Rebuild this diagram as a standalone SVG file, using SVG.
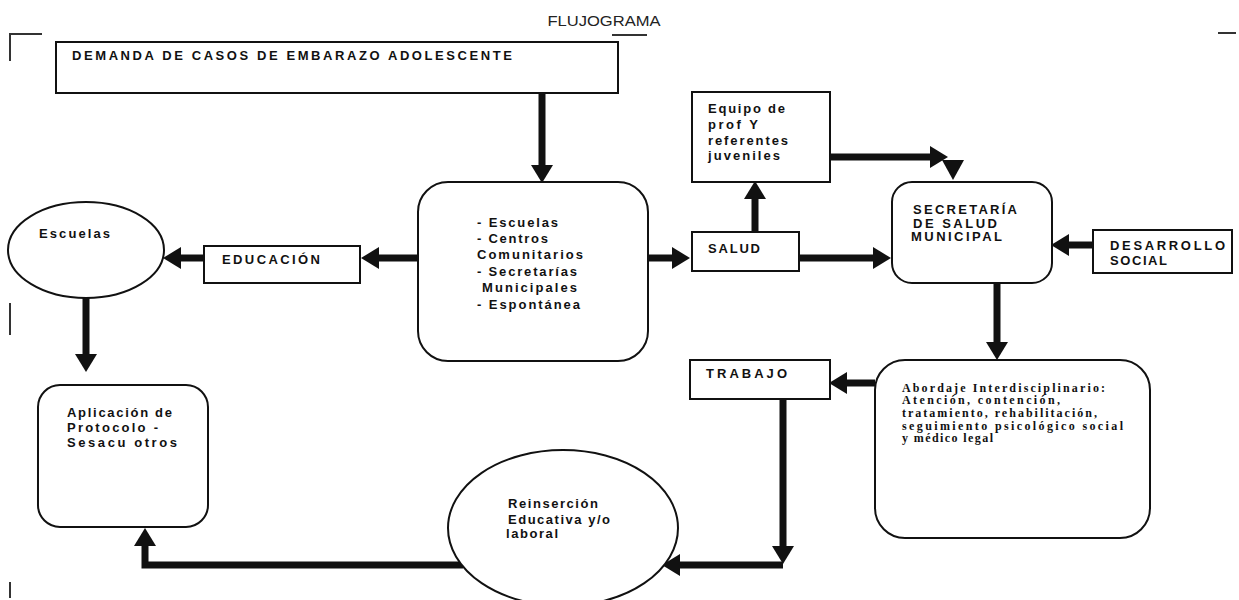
<svg xmlns="http://www.w3.org/2000/svg" width="1239" height="600" viewBox="0 0 1239 600">
<style>
.box{fill:#fff;stroke:#111;stroke-width:2}
.t{font-family:"Liberation Sans",Arial,sans-serif;font-weight:bold;font-size:13px;fill:#111}
.s{font-family:"Liberation Serif","Times New Roman",serif;font-weight:bold;font-size:12px;fill:#111}
.c{fill:none;stroke:#111;stroke-width:7}
.mark{fill:none;stroke:#333;stroke-width:2}
.head{fill:#111}
</style>
<defs>
<marker id="ah" markerUnits="userSpaceOnUse" markerWidth="18" markerHeight="22" viewBox="0 0 18 22" refX="0" refY="11" orient="auto">
<path d="M0,0 L18,11 L0,22 Z" fill="#111"/>
</marker>
</defs>
<rect width="1239" height="600" fill="#fff"/>
<g id="page-marks">
<path class="mark" d="M10,61 V34 H42"/>
<path class="mark" d="M10,303 V335"/>
<path class="mark" d="M10,582 V598"/>
<path class="mark" d="M1218,33 H1236"/>
<path class="mark" d="M612,35 H647"/>
<text x="604" y="26" text-anchor="middle" font-family="'Liberation Sans',Arial,sans-serif" font-size="15" fill="#222" textLength="113" lengthAdjust="spacingAndGlyphs">FLUJOGRAMA</text>
</g>
<g id="connectors">
<path class="c" d="M542,93 V165" marker-end="url(#ah)"/>
<path class="c" d="M418,258 H379" marker-end="url(#ah)"/>
<path class="c" d="M204,258 H181" marker-end="url(#ah)"/>
<path class="c" d="M86,298 V354" marker-end="url(#ah)"/>
<path class="c" d="M648,258 H672" marker-end="url(#ah)"/>
<path class="c" d="M755,232 V199" marker-end="url(#ah)"/>
<path class="c" d="M830,157 H930" marker-end="url(#ah)"/>
<polygon class="head" points="942,160 964,160 953,180"/>
<path class="c" d="M799,258 H873" marker-end="url(#ah)"/>
<path class="c" d="M1093,245 H1069" marker-end="url(#ah)"/>
<path class="c" d="M997,283 V342" marker-end="url(#ah)"/>
<path class="c" d="M875,383 H847" marker-end="url(#ah)"/>
<path class="c" d="M783,399 V546" marker-end="url(#ah)"/>
<path class="c" d="M783,565 H680" marker-end="url(#ah)"/>
<path class="c" d="M463,565 H145 V546" marker-end="url(#ah)"/>
</g>
<g id="demanda">
<rect class="box" x="56" y="42" width="562" height="51"/>
<text class="t" x="72" y="60" textLength="440" lengthAdjust="spacing">DEMANDA DE CASOS DE EMBARAZO ADOLESCENTE</text>
</g>
<g id="origen">
<rect class="box" x="418" y="182" width="230" height="179" rx="30"/>
<text class="t" x="477" y="227" textLength="81" lengthAdjust="spacing">- Escuelas</text>
<text class="t" x="477" y="243" textLength="71" lengthAdjust="spacing">- Centros</text>
<text class="t" x="477" y="259" textLength="106" lengthAdjust="spacing">Comunitarios</text>
<text class="t" x="477" y="276" textLength="100" lengthAdjust="spacing">- Secretarías</text>
<text class="t" x="482" y="292" textLength="95" lengthAdjust="spacing">Municipales</text>
<text class="t" x="477" y="309" textLength="103" lengthAdjust="spacing">- Espontánea</text>
</g>
<g id="educacion">
<rect class="box" x="204" y="246" width="156" height="37"/>
<text class="t" x="222" y="264" textLength="98" lengthAdjust="spacing">EDUCACIÓN</text>
</g>
<g id="escuelas">
<ellipse class="box" cx="86" cy="250" rx="78" ry="48"/>
<text class="t" x="39" y="238" textLength="71" lengthAdjust="spacing">Escuelas</text>
</g>
<g id="aplicacion">
<rect class="box" x="38" y="385" width="170" height="142" rx="22"/>
<text class="t" x="67" y="417" textLength="105" lengthAdjust="spacing">Aplicación de</text>
<text class="t" x="67" y="432" textLength="91" lengthAdjust="spacing">Protocolo -</text>
<text class="t" x="67" y="447" textLength="110" lengthAdjust="spacing">Sesacu otros</text>
</g>
<g id="salud">
<rect class="box" x="692" y="232" width="107" height="39"/>
<text class="t" x="708" y="253" textLength="52" lengthAdjust="spacing">SALUD</text>
</g>
<g id="equipo">
<rect class="box" x="692" y="92" width="138" height="90"/>
<text class="t" x="708" y="113" textLength="77" lengthAdjust="spacing">Equipo de</text>
<text class="t" x="708" y="129" textLength="50" lengthAdjust="spacing">prof Y</text>
<text class="t" x="708" y="145" textLength="80" lengthAdjust="spacing">referentes</text>
<text class="t" x="708" y="160" textLength="72" lengthAdjust="spacing">juveniles</text>
</g>
<g id="secretaria">
<rect class="box" x="892" y="182" width="160" height="101" rx="20"/>
<text class="t" x="913" y="214" textLength="104" lengthAdjust="spacing">SECRETARÍA</text>
<text class="t" x="913" y="228" textLength="84" lengthAdjust="spacing">DE SALUD</text>
<text class="t" x="911" y="241" textLength="91" lengthAdjust="spacing">MUNICIPAL</text>
</g>
<g id="desarrollo">
<rect class="box" x="1093" y="230" width="139" height="43"/>
<text class="t" x="1110" y="250" textLength="115" lengthAdjust="spacing">DESARROLLO</text>
<text class="t" x="1110" y="265" textLength="57" lengthAdjust="spacing">SOCIAL</text>
</g>
<g id="abordaje">
<rect class="box" x="875" y="360" width="275" height="178" rx="30"/>
<text class="s" x="902" y="392" textLength="203" lengthAdjust="spacing">Abordaje Interdisciplinario:</text>
<text class="s" x="902" y="404" textLength="158" lengthAdjust="spacing">Atención, contención,</text>
<text class="s" x="902" y="417" textLength="195" lengthAdjust="spacing">tratamiento, rehabilitación,</text>
<text class="s" x="902" y="430" textLength="221" lengthAdjust="spacing">seguimiento psicológico social</text>
<text class="s" x="902" y="442" textLength="91" lengthAdjust="spacing">y médico legal</text>
</g>
<g id="trabajo">
<rect class="box" x="690" y="360" width="140" height="39"/>
<text class="t" x="706" y="378" textLength="81" lengthAdjust="spacing">TRABAJO</text>
</g>
<g id="reinsercion">
<ellipse class="box" cx="563" cy="528" rx="115" ry="78"/>
<text class="t" x="508" y="508" textLength="90" lengthAdjust="spacing">Reinserción</text>
<text class="t" x="508" y="524" textLength="102" lengthAdjust="spacing">Educativa y/o</text>
<text class="t" x="506" y="538" textLength="52" lengthAdjust="spacing">laboral</text>
</g>
</svg>
